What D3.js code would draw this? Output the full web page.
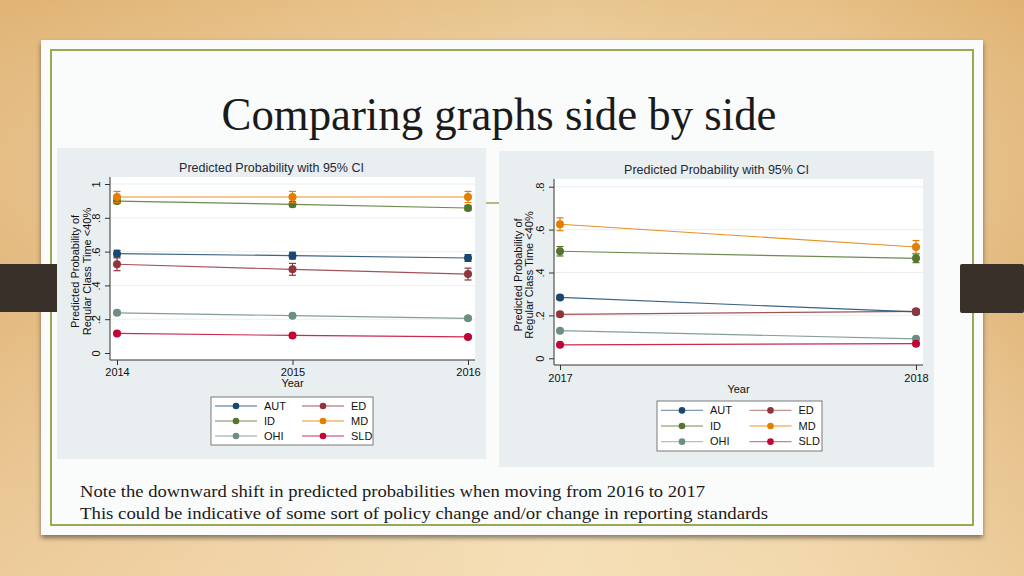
<!DOCTYPE html>
<html><head><meta charset="utf-8">
<script src="https://cdn.jsdelivr.net/npm/d3@7/dist/d3.min.js"></script>
<style>html,body{margin:0;padding:0;overflow:hidden;background:#e9c58e}</style>
</head><body><svg id="s" width="1024" height="576"></svg>
<script>
// ---- data ----
const seriesNames = ["AUT", "ED", "ID", "MD", "OHI", "SLD"];
const seriesColors = ["#1a476f", "#90353b", "#55752f", "#e37e00", "#6e8e84", "#c10534"];
const yTicksA = [0, 0.2, 0.4, 0.6, 0.8, 1];
const yTickLabelsA = ["0", ".2", ".4", ".6", ".8", "1"];
const yTicksB = [0, 0.2, 0.4, 0.6, 0.8];
const yTickLabelsB = ["0", ".2", ".4", ".6", ".8"];
const yearsA = [2014, 2015, 2016];
const yearsB = [2017, 2018];
// left chart (2014-2016) point estimates
const autA = [0.588, 0.576, 0.562];
const edA  = [0.525, 0.495, 0.467];
const idA  = [0.899, 0.880, 0.858];
const mdA  = [0.923, 0.923, 0.923];
const ohiA = [0.238, 0.221, 0.205];
const sldA = [0.116, 0.104, 0.095];
// left chart CI half-widths
const autCiA = [0.02, 0.02, 0.02];
const edCiA  = [0.038, 0.035, 0.035];
const idCiA  = [0.015, 0.015, 0.015];
const mdCiA  = [0.033, 0.033, 0.033];
const ohiCiA = [0.01, 0.01, 0.01];
const sldCiA = [0.007, 0.007, 0.007];
// right chart (2017-2018)
const autB = [0.284, 0.216];
const edB  = [0.205, 0.219];
const idB  = [0.499, 0.466];
const mdB  = [0.625, 0.519];
const ohiB = [0.129, 0.091];
const sldB = [0.063, 0.068];
const autCiB = [0.01, 0.01];
const edCiB  = [0.01, 0.01];
const idCiB  = [0.022, 0.02];
const mdCiB  = [0.03, 0.03];
const ohiCiB = [0.005, 0.005];
const sldCiB = [0.005, 0.005];

const chartTitle = "Predicted Probability with 95% CI";
const yTitle1 = "Predicted Probability of";
const yTitle2 = "Regular Class Time <40%";
const xTitle = "Year";
const slideTitle = "Comparing graphs side by side";
const note1 = "Note the downward shift in predicted probabilities when moving from 2016 to 2017";
const note2 = "This could be indicative of some sort of policy change and/or change in reporting standards";

const svg = d3.select("#s");
const defs = svg.append("defs");
const wood = defs.append("linearGradient").attr("id","wood").attr("x1",0).attr("x2",1).attr("y1",0).attr("y2",0);
[[0,"#e3b87c"],[0.3,"#ebc996"],[0.55,"#f0d6a8"],[0.8,"#eccb98"],[1,"#e2b77a"]].forEach(d=>wood.append("stop").attr("offset",d[0]).attr("stop-color",d[1]));
const woodV = defs.append("linearGradient").attr("id","woodv").attr("x1",0).attr("x2",0).attr("y1",0).attr("y2",1);
[[0,"rgba(220,170,100,0.35)"],[0.5,"rgba(255,255,255,0)"],[1,"rgba(255,240,210,0.35)"]].forEach(d=>woodV.append("stop").attr("offset",d[0]).attr("stop-color",d[1]));
const sh = defs.append("filter").attr("id","sh").attr("x","-5%").attr("y","-5%").attr("width","110%").attr("height","115%");
sh.append("feDropShadow").attr("dx",0).attr("dy",3).attr("stdDeviation",2.5).attr("flood-color","#000").attr("flood-opacity",0.45);

svg.append("rect").attr("width",1024).attr("height",576).attr("fill","url(#wood)");
svg.append("rect").attr("width",1024).attr("height",576).attr("fill","url(#woodv)");
// card
svg.append("rect").attr("x",41).attr("y",40).attr("width",942).attr("height",495).attr("fill","#fbfbfb").attr("filter","url(#sh)");
svg.append("rect").attr("x",51).attr("y",50).attr("width",922).attr("height",475).attr("fill","#fafbfb").attr("stroke","#98aa55").attr("stroke-width",2);
// title underline (decor)
svg.append("line").attr("x1",470).attr("x2",510).attr("y1",203).attr("y2",203).attr("stroke","#98aa55").attr("stroke-width",1.5);

svg.append("text").attr("x",499).attr("y",130).attr("text-anchor","middle")
  .attr("font-family","'Liberation Serif','DejaVu Serif',serif").attr("font-size",47).attr("fill","#1a1a1a")
  .attr("textLength",555).attr("lengthAdjust","spacingAndGlyphs").text(slideTitle);

const serif = "'Liberation Serif','DejaVu Serif',serif";
svg.append("text").attr("x",80).attr("y",497).attr("font-family",serif).attr("font-size",17.5).attr("fill","#1a1a1a")
  .attr("textLength",625).attr("lengthAdjust","spacingAndGlyphs").text(note1);
svg.append("text").attr("x",80).attr("y",519).attr("font-family",serif).attr("font-size",17.5).attr("fill","#1a1a1a")
  .attr("textLength",688).attr("lengthAdjust","spacingAndGlyphs").text(note2);

const sans = "'Liberation Sans',Arial,sans-serif";

function drawChart(cfg) {
  const g = svg.append("g");
  g.append("rect").attr("x",cfg.panel[0]).attr("y",cfg.panel[1]).attr("width",cfg.panel[2]-cfg.panel[0]).attr("height",cfg.panel[3]-cfg.panel[1]).attr("fill","#e9eef1");
  const [pl,pt,pr,pb] = cfg.plot;
  g.append("rect").attr("x",pl).attr("y",pt).attr("width",pr-pl).attr("height",pb-pt).attr("fill","#ffffff");
  const x = d3.scaleLinear().domain(d3.extent(cfg.years)).range(cfg.xRange);
  const y = d3.scaleLinear().domain([0, d3.max(cfg.yTicks)]).range(cfg.yRange);
  // gridlines
  g.selectAll(".grid").data(cfg.yTicks.filter(v=>v>0)).enter().append("line")
    .attr("x1",pl).attr("x2",pr).attr("y1",d=>y(d)).attr("y2",d=>y(d)).attr("stroke","#eaf0f2").attr("stroke-width",1);
  // y axis
  const ya = d3.axisLeft(y).tickValues(cfg.yTicks).tickFormat((d,i)=>cfg.yTickLabels[i]).tickSize(5).tickSizeOuter(0);
  const yg = g.append("g").attr("transform",`translate(${pl},0)`).call(ya);
  yg.select(".domain").attr("d",`M0,${pt}V${pb}`).attr("stroke","#333");
  yg.selectAll(".tick line").attr("stroke","#333");
  yg.selectAll(".tick text").attr("font-family",sans).attr("font-size",11).attr("fill","#111")
    .attr("text-anchor","middle").attr("x",0).attr("dy",0)
    .attr("transform",function(){ return `translate(-10,0) rotate(-90)`; });
  // x axis
  const xa = d3.axisBottom(x).tickValues(cfg.years).tickFormat(d3.format("d")).tickSize(5).tickSizeOuter(0);
  const xg = g.append("g").attr("transform",`translate(0,${pb})`).call(xa);
  xg.select(".domain").attr("d",`M${pl},0H${pr}`).attr("stroke","#333");
  xg.selectAll(".tick line").attr("stroke","#333");
  xg.selectAll(".tick text").attr("font-family",sans).attr("font-size",11).attr("fill","#111").attr("y",cfg.xLabelDy).attr("dy","0.32em");
  // titles
  g.append("text").attr("x",cfg.titleX).attr("y",cfg.titleY).attr("text-anchor","middle").attr("font-family",sans).attr("font-size",12.5).attr("fill","#1e2a36").text(chartTitle);
  g.append("text").attr("x",(pl+pr)/2).attr("y",cfg.xTitleY).attr("text-anchor","middle").attr("font-family",sans).attr("font-size",11).attr("fill","#111").text(xTitle);
  const yc = (pt+pb)/2 + 3;
  [[yTitle1,cfg.yTitleX[0]],[yTitle2,cfg.yTitleX[1]]].forEach(([t,xx])=>{
    g.append("text").attr("transform",`translate(${xx},${yc}) rotate(-90)`).attr("text-anchor","middle").attr("dy","0.35em")
      .attr("font-family",sans).attr("font-size",11).attr("fill","#111").text(t);
  });
  // series
  const line = d3.line().x(d=>x(d.yr)).y(d=>y(d.v));
  cfg.series.forEach((s,si)=>{
    const pts = cfg.years.map((yr,i)=>({yr, v:s.vals[i], ci:s.ci[i]}));
    const col = seriesColors[si];
    g.append("path").datum(pts).attr("d",line).attr("fill","none").attr("stroke",col).attr("stroke-width",1.2).attr("stroke-opacity",0.85);
    pts.forEach(p=>{
      const cx = x(p.yr), y1 = y(p.v+p.ci), y2 = y(p.v-p.ci);
      g.append("line").attr("x1",cx).attr("x2",cx).attr("y1",y1).attr("y2",y2).attr("stroke",col).attr("stroke-width",1.2);
      g.append("line").attr("x1",cx-3.5).attr("x2",cx+3.5).attr("y1",y1).attr("y2",y1).attr("stroke",col).attr("stroke-width",1.2);
      g.append("line").attr("x1",cx-3.5).attr("x2",cx+3.5).attr("y1",y2).attr("y2",y2).attr("stroke",col).attr("stroke-width",1.2);
      g.append("circle").attr("cx",cx).attr("cy",y(p.v)).attr("r",4).attr("fill",col);
    });
  });
  // legend
  const [lx0,ly0,lx1,ly1] = cfg.legend;
  g.append("rect").attr("x",lx0).attr("y",ly0).attr("width",lx1-lx0).attr("height",ly1-ly0).attr("fill","#ffffff").attr("stroke","#7a7a7a").attr("stroke-width",1);
  const rowH = (ly1-ly0)/3.2;
  const colW = (lx1-lx0)/2;
  seriesNames.forEach((nm,i)=>{
    const c = i%2, r = Math.floor(i/2);
    const yy = ly0 + rowH*(r+0.6);
    const xs = lx0 + 4 + c*(colW+6);
    const col = seriesColors[i];
    g.append("line").attr("x1",xs).attr("x2",xs+42).attr("y1",yy).attr("y2",yy).attr("stroke",col).attr("stroke-width",1.3).attr("stroke-opacity",0.55);
    g.append("circle").attr("cx",xs+21).attr("cy",yy).attr("r",3.3).attr("fill",col);
    g.append("text").attr("x",xs+49).attr("y",yy).attr("dy","0.35em").attr("font-family",sans).attr("font-size",11).attr("fill","#111").text(nm);
  });
}

drawChart({
  panel:[57,148,486,459], plot:[110,177,475,360],
  years:yearsA, xRange:[117,468], yTicks:yTicksA, yTickLabels:yTickLabelsA, yRange:[353,184],
  titleX:271.5, titleY:172, xTitleY:387, xLabelDy:12, yTitleX:[75,87],
  legend:[211,397,373,445],
  series:[
    {vals:autA, ci:autCiA},{vals:edA, ci:edCiA},{vals:idA, ci:idCiA},
    {vals:mdA, ci:mdCiA},{vals:ohiA, ci:ohiCiA},{vals:sldA, ci:sldCiA}]
});
drawChart({
  panel:[499,151,934,467], plot:[554,179,923,365],
  years:yearsB, xRange:[560,916], yTicks:yTicksB, yTickLabels:yTickLabelsB, yRange:[358.3,186.7],
  titleX:716.5, titleY:174, xTitleY:393, xLabelDy:13, yTitleX:[518,529],
  legend:[657,401,822,451],
  series:[
    {vals:autB, ci:autCiB},{vals:edB, ci:edCiB},{vals:idB, ci:idCiB},
    {vals:mdB, ci:mdCiB},{vals:ohiB, ci:ohiCiB},{vals:sldB, ci:sldCiB}]
});

// dark side tabs
svg.append("rect").attr("x",0).attr("y",264).attr("width",57).attr("height",48).attr("fill","#3a302a");
svg.append("rect").attr("x",960).attr("y",264).attr("width",64).attr("height",49).attr("rx",2).attr("fill","#3a302a");
</script></body></html>
